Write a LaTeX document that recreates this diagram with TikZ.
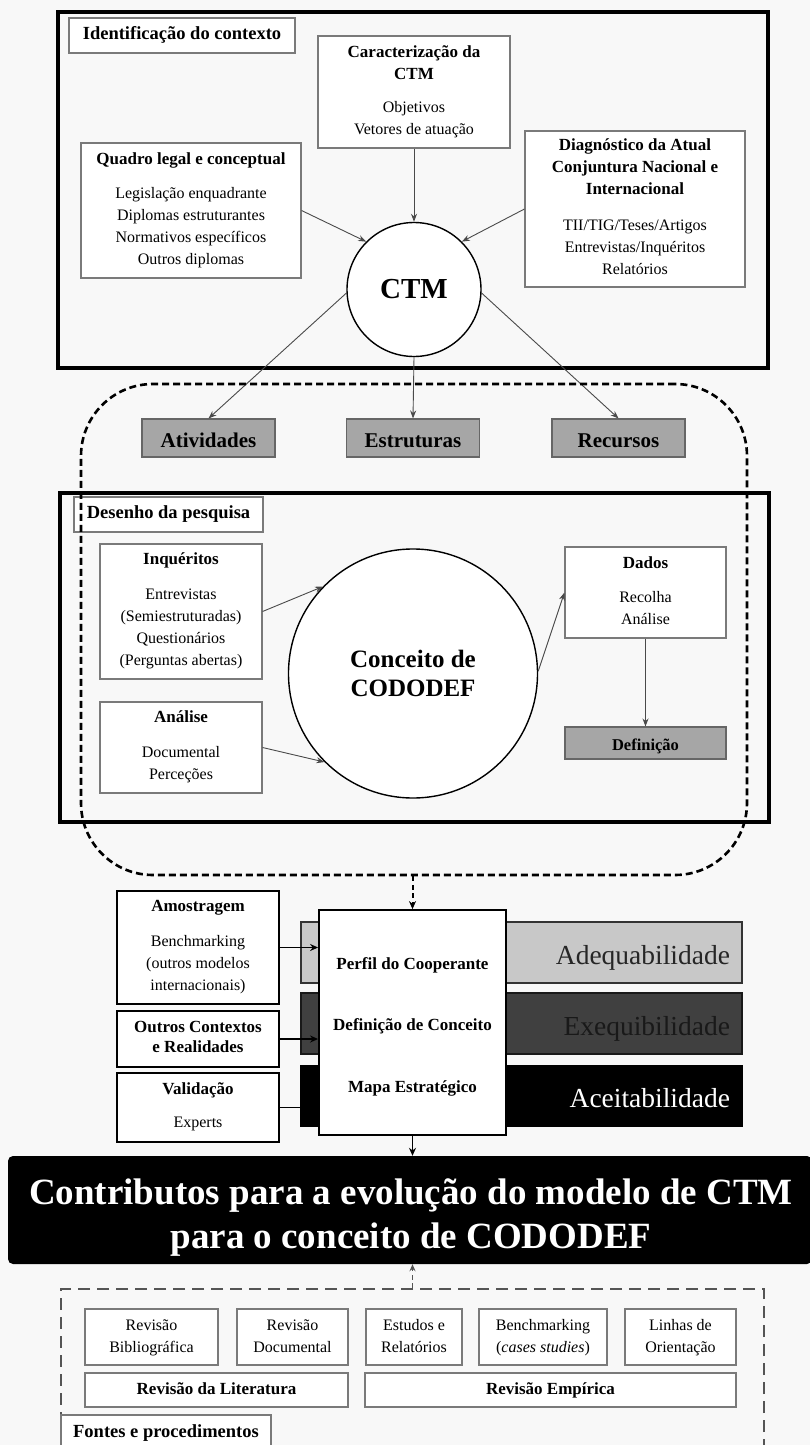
\documentclass[tikz,border=0pt]{standalone}
\usepackage{fontspec}
\setmainfont{Liberation Serif}
\usetikzlibrary{arrows.meta}
\definecolor{pagebg}{HTML}{F8F8F8}
\definecolor{thinline}{HTML}{7A7A7A}
\definecolor{arrline}{HTML}{4A4A4A}
\definecolor{boxgray}{HTML}{A6A6A6}
\definecolor{barlight}{HTML}{C8C8C8}
\definecolor{bardark}{HTML}{404040}
\definecolor{dashgray}{HTML}{555555}
% bold title lines and section labels
\newcommand\ttl[1]{{\fontsize{17}{22}\selectfont\bfseries #1}}
\newcommand\lbl[1]{{\fontsize{18.5}{22}\selectfont\bfseries #1}}
\begin{document}
\begin{tikzpicture}[x=1pt,y=-1pt,
  every node/.style={inner sep=0pt, align=center, font=\fontsize{16}{22}\selectfont},
  sz/.style 2 args={minimum width=#1pt, minimum height=#2pt},
  frame/.style={draw=black, line width=4pt, rectangle},
  thinbox/.style={draw=thinline, line width=1.1pt, fill=white, rectangle, text depth=4.5pt},
  graybox/.style={thinbox, fill=boxgray, draw=black!60},
  blkbox/.style={draw=black, line width=1.8pt, fill=white, rectangle, text depth=4.5pt},
  bar/.style={rectangle, line width=1.2pt, text width=417pt, align=right,
    font=\fontsize{27.5}{30}\selectfont, text height=23pt, text depth=0pt},
  srcbox/.style={thinbox, text depth=1.5pt},
  arr/.style={draw=arrline, line width=0.9pt, -{Stealth[length=8pt,width=6pt]}},
  barr/.style={draw=black, line width=1.6pt, -{Stealth[length=8pt,width=7pt]}},
  dashar/.style={draw=black, line width=2pt, dash pattern=on 5pt off 3.5pt,
    -{Stealth[length=8pt,width=7pt]}},
  graydashar/.style={draw=dashgray, line width=1.5pt, dash pattern=on 5pt off 3.5pt,
    -{Stealth[length=7pt,width=6pt]}},
  roundsec/.style={draw=black, line width=2.6pt, dash pattern=on 7pt off 4pt,
    rounded corners=72pt, rectangle},
  srcsec/.style={draw=dashgray, line width=1.8pt, dash pattern=on 12pt off 7pt, rectangle}
]
\useasboundingbox (0,0) rectangle (810,1445);
\clip (0,0) rectangle (810,1445);
\fill[pagebg] (0,0) rectangle (810,1445);

% ---------- context identification ----------
\node[frame, sz={710}{356}] (ctx) at (413,190) {};
\node[thinbox, sz={226}{35}] (ctxlbl) at (182,35.5) {\lbl{Identificação do contexto}};
\node[thinbox, sz={192}{112}] (caract) at (414,92)
  {\ttl{Caracterização da}\\\ttl{CTM}\\[11pt] Objetivos\\Vetores de atuação};
\node[thinbox, sz={220}{135}] (quadro) at (191,210.5)
  {\ttl{Quadro legal e conceptual}\\[12pt] Legislação enquadrante\\Diplomas estruturantes\\
   Normativos específicos\\Outros diplomas};
\node[thinbox, sz={220}{156}] (diag) at (635,209)
  {\ttl{Diagnóstico da Atual}\\\ttl{Conjuntura Nacional e}\\\ttl{Internacional}\\[14pt]
   TII/TIG/Teses/Artigos\\Entrevistas/Inquéritos\\Relatórios};
\node[circle, draw=black, line width=1.4pt, fill=white, minimum size=134pt,
  font=\fontsize{29}{32}\selectfont\bfseries] (ctm) at (414,289.5) {CTM};

\draw[arr] (quadro.east) -- (ctm.135);
\draw[arr] (caract.south) -- (ctm.north);
\draw[arr] (diag.west) -- (ctm.45);

% ---------- dimensions ----------
\tikzset{dimbox/.style={graybox, sz={133}{38}, font=\fontsize{21}{24}\selectfont\bfseries,
  text height=20pt, text depth=2pt}}
\node[dimbox] (ativ) at (208.5,438) {Atividades};
\node[dimbox] (estr) at (413,438) {Estruturas};
\node[dimbox] (recu) at (618.5,438) {Recursos};

\draw[arr] (ctm.183) -- (ativ.north);
\draw[arr] (ctm.south) -- (estr.north);
\draw[arr] (ctm.357) -- (recu.north);

% ---------- research design ----------
\node[frame, sz={709}{329}] (design) at (414.5,657.5) {};
\node[thinbox, sz={189}{35}] (deslbl) at (168.5,514.5) {\lbl{Desenho da pesquisa}};
\node[thinbox, sz={162}{135}] (inq) at (181,611.5)
  {\ttl{Inquéritos}\\[13pt] Entrevistas\\(Semiestruturadas)\\Questionários\\(Perguntas abertas)};
\node[thinbox, sz={162}{91}] (anal) at (181,747.5)
  {\ttl{Análise}\\[13pt] Documental\\Perceções};
\node[circle, draw=black, line width=1.4pt, fill=white, minimum size=249pt,
  font=\fontsize{25}{29}\selectfont\bfseries] (cod) at (413,673.5) {Conceito de\\CODODEF};
\node[thinbox, sz={161}{91}] (dados) at (645.5,592.5)
  {\ttl{Dados}\\[12pt] Recolha\\Análise};
\node[graybox, sz={161}{32}, font=\fontsize{16.5}{20}\selectfont\bfseries,
  text height=15pt, text depth=1pt] (defin) at (645.5,743) {Definição};

\draw[arr] (inq.east) -- (cod.136);
\draw[arr] (anal.east) -- (cod.225);
\draw[arr] (cod.1) -- (dados.west);
\draw[arr] (dados.south) -- (defin.north);

% dashed envelope around dimensions and research design
\node[roundsec, sz={666}{491}] (scope) at (414,629.5) {};

% ---------- criteria and outputs ----------
\node[bar, sz={441}{61}, fill=barlight, draw=black!80, text=black!85] (adeq) at (521.5,952.5) {Adequabilidade};
\node[bar, sz={441}{61}, fill=bardark, draw=black!90, text=black!90] (exeq) at (521.5,1023.5) {Exequibilidade};
\node[bar, sz={441}{61}, fill=black, draw=black, text=white] (acei) at (521.5,1096) {Aceitabilidade};

\node[blkbox, sz={162}{113}] (amost) at (198,947.5)
  {\ttl{Amostragem}\\[13pt] Benchmarking\\(outros modelos\\internacionais)};
\node[blkbox, sz={162}{56}] (outros) at (198,1039)
  {\ttl{Outros Contextos}\\[-2pt]\ttl{e Realidades}};
\node[blkbox, sz={162}{69}] (valid) at (198,1107.5)
  {\ttl{Validação}\\[11pt] Experts};
\node[blkbox, sz={187}{225}] (central) at (412.5,1022.5) {};
\node[font=\fontsize{17}{61.5}\selectfont\bfseries] (centraltxt) at (412.5,1026.5)
  {Perfil do Cooperante\\Definição de Conceito\\Mapa Estratégico};

\draw[barr] (amost.east) -- (amost.east -| central.west);
\draw[barr] (outros.east) -- (outros.east -| central.west);
\draw[barr] (valid.east) -- (valid.east -| central.west);
\draw[dashar] (central.north |- scope.south) -- (central.north);

\node[rectangle, fill=black, rounded corners=5pt, sz={804}{108}] (contrib) at (410,1210) {};
\node[text=white, font=\fontsize{37}{44}\selectfont\bfseries] (contribtxt) at (411,1218)
  {Contributos para a evolução do modelo de CTM\\para o conceito de CODODEF};
\draw[barr] (central.south) -- (central.south |- contrib.north);

% ---------- sources and procedures ----------
\node[srcsec, sz={703}{181}] (sources) at (412.5,1379.5) {};
\node[srcbox, sz={133}{56}] (bib) at (151.5,1337) {Revisão\\Bibliográfica};
\node[srcbox, sz={111}{56}] (doc) at (292.5,1337) {Revisão\\Documental};
\node[srcbox, sz={96}{56}] (est) at (414,1337) {Estudos e\\Relatórios};
\node[srcbox, sz={128}{56}] (bench) at (543,1337) {Benchmarking\\(\textit{cases studies})};
\node[srcbox, sz={111}{56}] (lin) at (680.5,1337) {Linhas de\\Orientação};
\node[thinbox, sz={263}{34}, text depth=2.5pt] (lit) at (216.5,1390) {\ttl{Revisão da Literatura}};
\node[thinbox, sz={371}{34}, text depth=2.5pt] (emp) at (550.5,1390) {\ttl{Revisão Empírica}};
\node[thinbox, sz={210}{37}] (fontes) at (166,1433.5) {\lbl{Fontes e procedimentos}};

\draw[graydashar] (sources.north) -- (sources.north |- contrib.south);
\end{tikzpicture}
\end{document}
